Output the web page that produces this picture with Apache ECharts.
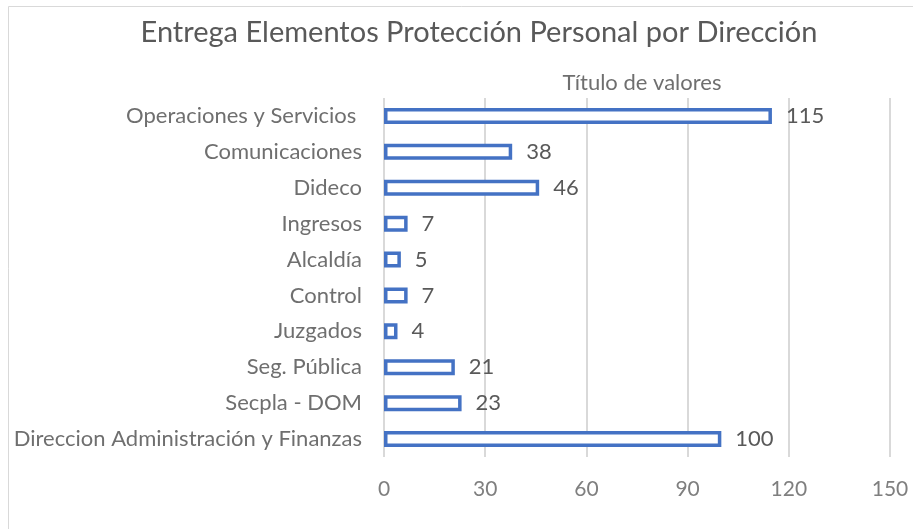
<!DOCTYPE html>
<html>
<head>
<meta charset="utf-8">
<script src="https://cdn.jsdelivr.net/npm/echarts@6/dist/echarts.min.js"></script>
<style>
  html, body { margin: 0; padding: 0; background: #fff; }
  #chart { width: 913px; height: 529px; }
</style>
</head>
<body>
<div id="chart"></div>
<script>
// categories from bottom to top
var direcciones = [
  "Direccion Administración y Finanzas",
  "Secpla - DOM",
  "Seg. Pública",
  "Juzgados",
  "Control",
  "Alcaldía",
  "Ingresos",
  "Dideco",
  "Comunicaciones",
  "Operaciones y Servicios "
];
var entregas = [100, 23, 21, 4, 7, 5, 7, 46, 38, 115];
var ejeMin = 0;
var ejeMax = 150;
var ejePaso = 30;

var font = "Lato";
var chart = echarts.init(document.getElementById("chart"));
chart.setOption({
  backgroundColor: "#fff",
  animation: false,
  graphic: [
    {
      type: "rect",
      shape: { x: 8.5, y: 6.5, width: 920, height: 540 },
      style: { fill: "none", stroke: "#d9d9d9", lineWidth: 1 },
      silent: true
    }
  ],
  title: [
    {
      text: "Entrega Elementos Protección Personal por Dirección",
      left: 474,
      textAlign: "center",
      top: 13,
      textStyle: { fontFamily: font, fontSize: 29, fontWeight: "normal", color: "#595959" }
    },
    {
      text: "Título de valores",
      left: 637,
      textAlign: "center",
      top: 67,
      textStyle: { fontFamily: font, fontSize: 22, fontWeight: "normal", color: "#6f6f6f" }
    }
  ],
  grid: { left: 384, right: 23, top: 98, bottom: 72 },
  xAxis: {
    type: "value",
    min: ejeMin,
    max: ejeMax,
    interval: ejePaso,
    axisLine: { show: false },
    axisTick: { show: false },
    splitLine: { show: true, lineStyle: { color: "#d9d9d9", width: 2 } },
    axisLabel: { fontFamily: font, fontSize: 21, color: "#7f7f7f", margin: 22 }
  },
  yAxis: {
    type: "category",
    data: direcciones,
    axisLine: { show: false },
    axisTick: { show: false },
    axisLabel: { fontFamily: font, fontSize: 22, color: "#6f6f6f", margin: 22 }
  },
  series: [
    {
      type: "bar",
      data: entregas,
      barWidth: 16,
      itemStyle: { color: "#fff", borderColor: "#4472C4", borderWidth: 3.5 },
      label: {
        show: true,
        position: "right",
        distance: 14,
        fontFamily: font,
        fontSize: 22,
        color: "#595959"
      }
    }
  ]
});
</script>
</body>
</html>
